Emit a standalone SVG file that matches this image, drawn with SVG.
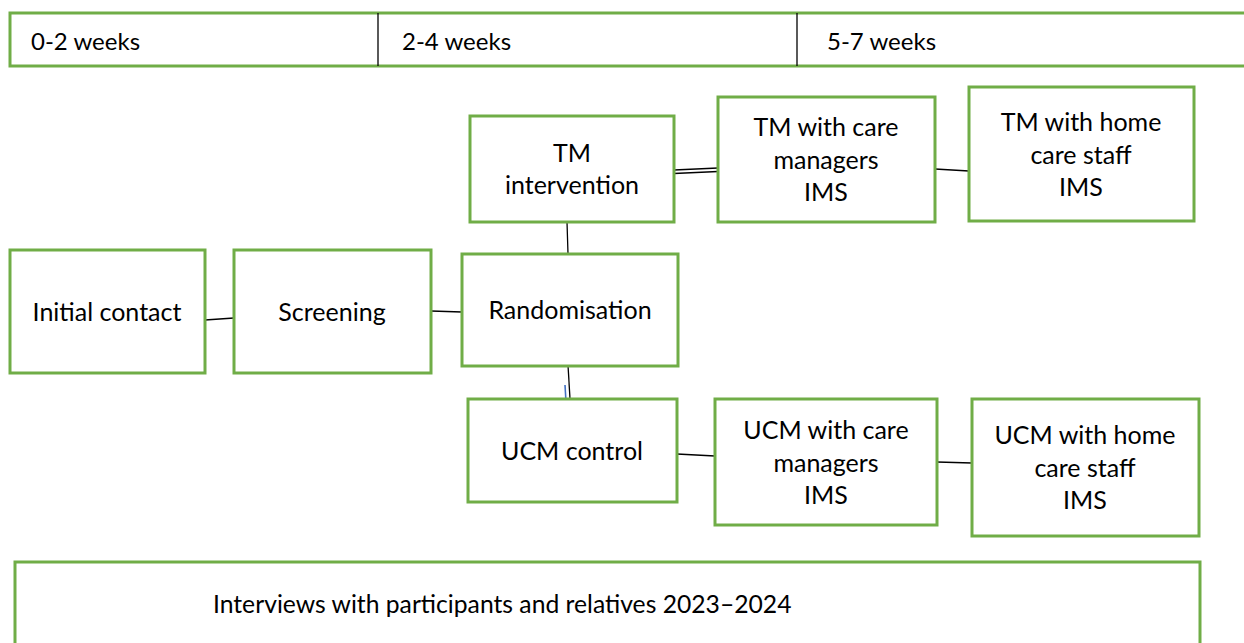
<svg xmlns="http://www.w3.org/2000/svg" width="1244" height="643" viewBox="0 0 1244 643">
<style>
.box{fill:#fff;stroke:#70AD47;stroke-width:3}
.t{font-family:Lato,"Liberation Sans",sans-serif;font-size:25px;fill:#000;text-anchor:middle}
.tl{font-family:Lato,"Liberation Sans",sans-serif;font-size:24px;fill:#000}
.c{stroke:#000;stroke-width:1.3;fill:none}
</style>
<rect width="1244" height="643" fill="#fff"/>
<g id="timeline">
<rect class="box" x="10" y="13" width="1250" height="53"/>
<line x1="378" y1="13" x2="378" y2="66" stroke="#000" stroke-width="1.3"/>
<line x1="797" y1="13" x2="797" y2="66" stroke="#000" stroke-width="1.3"/>
<text class="tl" x="31" y="50">0-2 weeks</text>
<text class="tl" x="402" y="50">2-4 weeks</text>
<text class="tl" x="827" y="50">5-7 weeks</text>
</g>
<g id="connectors">
<line class="c" x1="205" y1="320" x2="234" y2="318"/>
<line class="c" x1="431" y1="311" x2="462" y2="312"/>
<line class="c" x1="567" y1="222" x2="568" y2="254"/>
<line class="c" x1="568" y1="365" x2="570" y2="399"/>
<line x1="565" y1="385" x2="566" y2="402" stroke="#4472C4" stroke-width="1.6"/>
<line class="c" x1="674" y1="170" x2="718" y2="168"/>
<line class="c" x1="674" y1="173.5" x2="718" y2="171.5"/>
<line class="c" x1="935" y1="169" x2="969" y2="171"/>
<line class="c" x1="677" y1="454" x2="715" y2="456"/>
<line class="c" x1="937" y1="462" x2="972" y2="463"/>
</g>
<g id="initial-contact">
<rect class="box" x="10" y="250" width="195" height="123"/>
<text class="t" x="107" y="321">Initial contact</text>
</g>
<g id="screening">
<rect class="box" x="234" y="250" width="197" height="123"/>
<text class="t" x="332" y="321">Screening</text>
</g>
<g id="randomisation">
<rect class="box" x="462" y="254" width="216" height="112"/>
<text class="t" x="570" y="319">Randomisation</text>
</g>
<g id="tm-intervention">
<rect class="box" x="470" y="116" width="204" height="106"/>
<text class="t" x="572" y="162">TM</text>
<text class="t" x="572" y="194">intervention</text>
</g>
<g id="tm-care-managers">
<rect class="box" x="718" y="97" width="217" height="125"/>
<text class="t" x="826" y="136">TM with care</text>
<text class="t" x="826" y="169">managers</text>
<text class="t" x="826" y="201">IMS</text>
</g>
<g id="tm-home-care">
<rect class="box" x="969" y="87" width="225" height="134"/>
<text class="t" x="1081" y="131">TM with home</text>
<text class="t" x="1081" y="164">care staff</text>
<text class="t" x="1081" y="196">IMS</text>
</g>
<g id="ucm-control">
<rect class="box" x="468" y="399" width="209" height="103"/>
<text class="t" x="572" y="460">UCM control</text>
</g>
<g id="ucm-care-managers">
<rect class="box" x="715" y="399" width="222" height="126"/>
<text class="t" x="826" y="439">UCM with care</text>
<text class="t" x="826" y="472">managers</text>
<text class="t" x="826" y="504">IMS</text>
</g>
<g id="ucm-home-care">
<rect class="box" x="972" y="399" width="227" height="137"/>
<text class="t" x="1085" y="444">UCM with home</text>
<text class="t" x="1085" y="477">care staff</text>
<text class="t" x="1085" y="509">IMS</text>
</g>
<g id="interviews">
<rect class="box" x="15" y="562" width="1185" height="100"/>
<text class="tl" x="213" y="613" style="font-size:24.7px">Interviews with participants and relatives 2023–2024</text>
</g>
</svg>
